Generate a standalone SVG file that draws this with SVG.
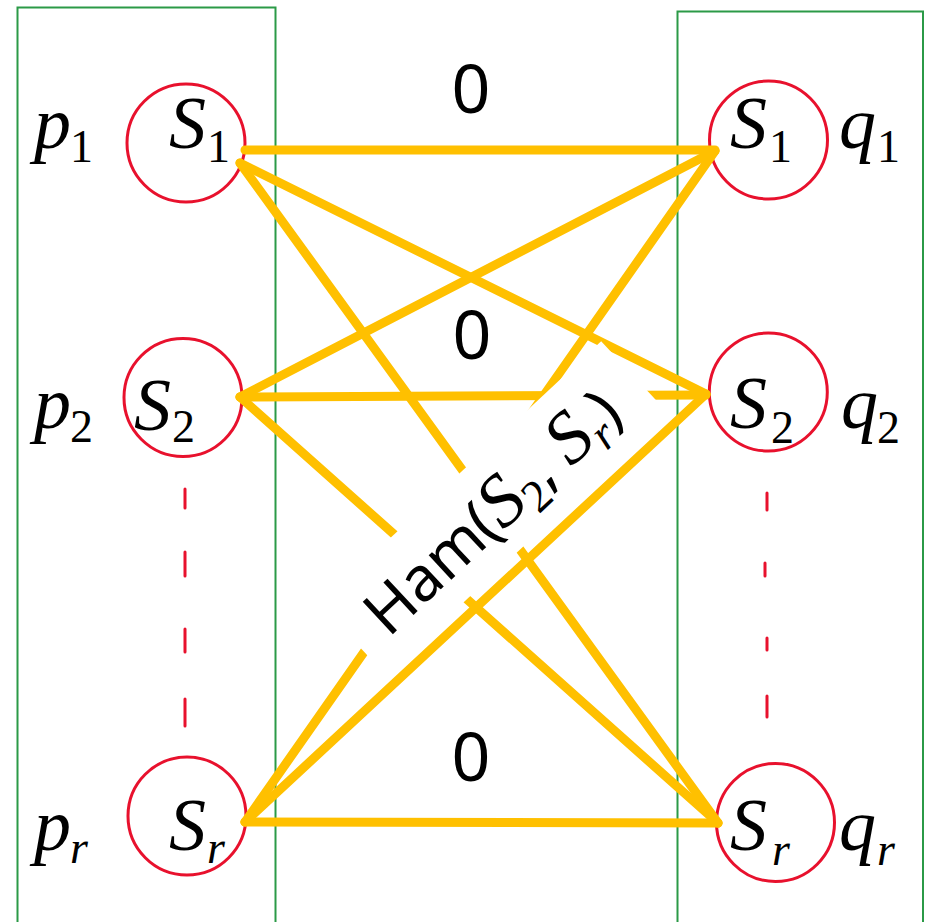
<svg xmlns="http://www.w3.org/2000/svg" width="926" height="922" viewBox="0 0 926 922">
<style>
.box{fill:none;stroke:#2b9a47;stroke-width:2}
.node{fill:#fff;stroke:#e8112d;stroke-width:3}
.dash{stroke:#e8112d;stroke-width:3;stroke-linecap:round}
.edge{stroke:#ffc000;stroke-width:9;stroke-linecap:round;fill:none}
.m{font-family:"Liberation Serif","DejaVu Serif",serif;font-style:italic;font-size:74px;fill:#000}
.sub{font-family:"Liberation Serif","DejaVu Serif",serif;font-style:normal;font-size:46px;fill:#000}
.subi{font-family:"Liberation Serif","DejaVu Serif",serif;font-style:italic;font-size:46px;fill:#000}
.zero{font-family:"Noto Sans","Open Sans",sans-serif;font-size:68px;fill:#000;text-anchor:middle}
.ham{font-family:"Noto Sans","Open Sans",sans-serif;font-size:62px;fill:#000}
</style>
<rect class="box" x="17.5" y="7.5" width="258" height="920"/>
<rect class="box" x="677.5" y="11.5" width="245.5" height="920"/>
<g id="nodes-left">
<g id="L1"><circle class="node" cx="186" cy="143" r="59"/></g>
<g id="L2"><circle class="node" cx="183" cy="397.5" r="59"/></g>
<g id="Lr"><circle class="node" cx="187" cy="816" r="59"/></g>
</g>
<g id="nodes-right">
<g id="R1"><circle class="node" cx="768.5" cy="140" r="59"/></g>
<g id="R2"><circle class="node" cx="768.3" cy="392" r="59"/></g>
<g id="Rr"><circle class="node" cx="775.5" cy="822.5" r="59"/></g>
</g>
<g id="dots">
<line class="dash" x1="185" y1="489" x2="185" y2="508"/>
<line class="dash" x1="185" y1="552" x2="185" y2="576"/>
<line class="dash" x1="185" y1="629" x2="185" y2="652"/>
<line class="dash" x1="185" y1="699" x2="185" y2="726"/>
<line class="dash" x1="767" y1="493" x2="767" y2="510"/>
<line class="dash" x1="765" y1="563" x2="765" y2="576"/>
<line class="dash" x1="767" y1="638" x2="767" y2="650"/>
<line class="dash" x1="767" y1="696" x2="767" y2="717"/>
</g>
<g id="connectors">
<line class="edge" x1="245" y1="150" x2="715" y2="150"/>
<line class="edge" x1="240" y1="163" x2="706" y2="394"/>
<line class="edge" x1="240" y1="163" x2="718" y2="823"/>
<line class="edge" x1="240" y1="397" x2="715" y2="151"/>
<line class="edge" x1="240" y1="397" x2="706" y2="395"/>
<line class="edge" x1="240" y1="397" x2="718" y2="823"/>
<line class="edge" x1="245" y1="822" x2="715" y2="151"/>
<line class="edge" x1="245" y1="822" x2="706" y2="394"/>
<line class="edge" x1="245" y1="822" x2="718" y2="823"/>
</g>
<g id="edge-labels">
<text class="zero" x="471" y="113">0</text>
<text class="zero" x="472" y="359">0</text>
<text class="zero" x="471" y="781">0</text>
<g id="ham-label" transform="translate(460,473) rotate(-43)">
<rect x="-192" y="0" width="385" height="97" fill="#fff"/>
<text class="ham" x="-165" y="72">Ham(<tspan class="m" font-size="70">S</tspan><tspan class="sub" font-size="42" dy="12">2</tspan><tspan dy="-12">, </tspan><tspan class="m" font-size="70">S</tspan><tspan class="subi" font-size="42" dy="12">r</tspan><tspan dy="-12">)</tspan></text>
</g>
</g>
<g id="node-labels">
<text class="m" x="169" y="148">S</text><text class="sub" x="207" y="162">1</text>
<text class="m" x="134" y="430">S</text><text class="sub" x="172" y="442">2</text>
<text class="m" x="169" y="850">S</text><text class="subi" x="207" y="863">r</text>
<text class="m" x="730" y="148">S</text><text class="sub" x="769" y="162">1</text>
<text class="m" x="730" y="428">S</text><text class="sub" x="771" y="443">2</text>
<text class="m" x="730" y="850">S</text><text class="subi" x="772" y="865">r</text>
<text class="m" x="34" y="148">p</text><text class="sub" x="70" y="162">1</text>
<text class="m" x="34" y="428">p</text><text class="sub" x="70" y="442">2</text>
<text class="m" x="34" y="850">p</text><text class="subi" x="70" y="863">r</text>
<text class="m" x="839" y="148">q</text><text class="sub" x="877" y="162">1</text>
<text class="m" x="841" y="428">q</text><text class="sub" x="877" y="443">2</text>
<text class="m" x="839" y="850">q</text><text class="subi" x="877" y="865">r</text>
</g>
</svg>
